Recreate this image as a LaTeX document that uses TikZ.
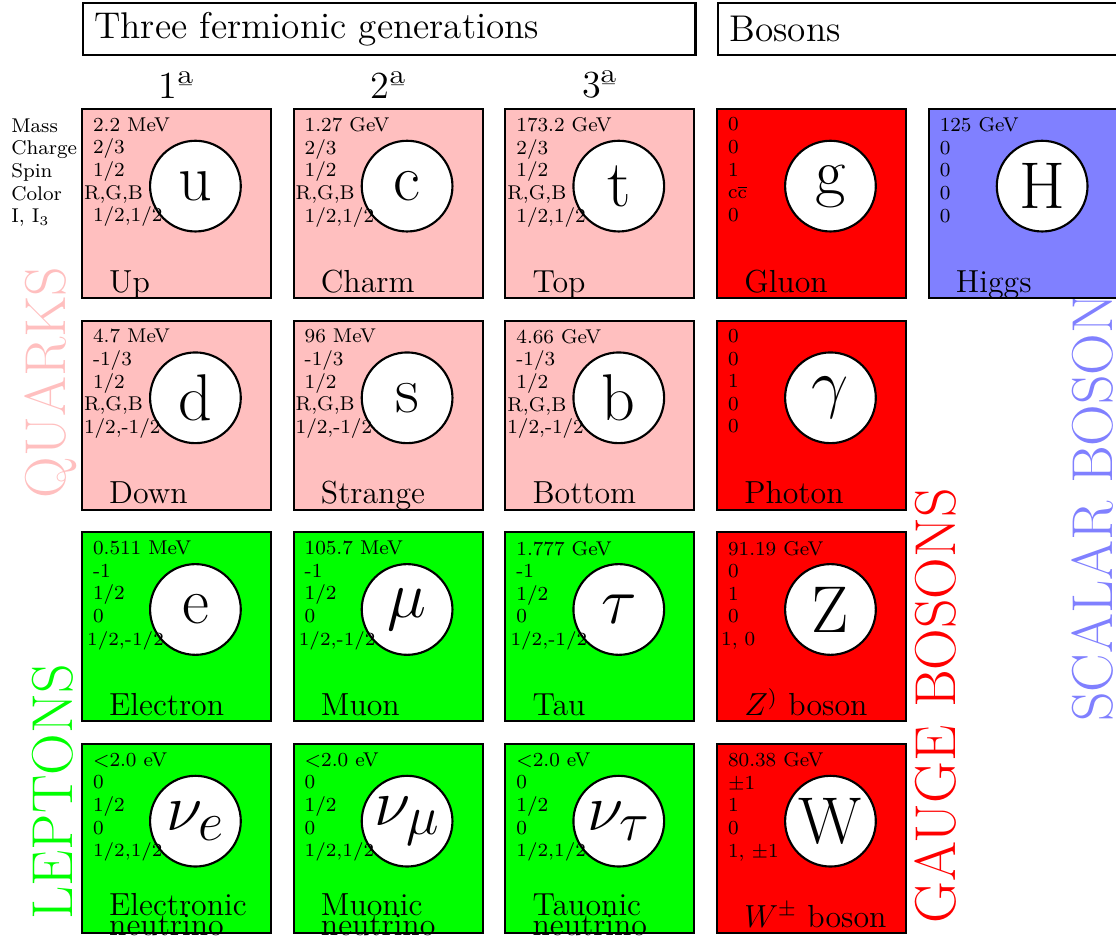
\documentclass[tikz,border=0pt]{standalone}
\usepackage{amsmath}
\usetikzlibrary{positioning}

\begin{document}
\begin{tikzpicture}[line width=0.8pt,
  cell/.style={draw,minimum size=2.5cm,inner sep=0pt},
  quark/.style={cell,fill=red!25},
  lepton/.style={cell,fill=green},
  gauge/.style={cell,fill=red},
  scalar/.style={cell,fill=blue!50},
  ball/.style={draw,fill=white,circle,minimum size=1.2cm,inner sep=0pt,font=\Huge},
  props/.style={anchor=north west,align=left,inner sep=0pt,font=\fontsize{7.5}{8.5}\selectfont},
  pname/.style={anchor=base west,inner sep=0pt,font=\large,align=left},
  family/.style={rotate=90,anchor=base,inner sep=0pt,font=\fontsize{21.7}{26}\selectfont},
  header/.style={draw,anchor=south west,minimum height=0.69cm,text width=7.8cm,inner xsep=0.15cm,inner ysep=0pt,align=left,font=\fontsize{14}{17}\selectfont}]
  \useasboundingbox (-2.335,-9.716) rectangle (12.427,2.692);
  % cabeceras
  \node[header] (ferm) at (-1.25,1.95) {Three fermionic generations};
  \node[header] (bos) at (7.15,1.95) {Bosons};
  \node[font=\Large] (gen1) at (0,1.57) {1ª};
  \node[font=\Large] (gen2) at (2.8,1.57) {2ª};
  \node[font=\Large] (gen3) at (5.6,1.57) {3ª};
  \node[props] (labels) at (-2.2,1.135) {Mass\\Charge\\Spin\\Color\\I, I$_3$};
  % familias
  \node[family,red!25] (quarks) at (-1.475,-2.368) {QUARKS};
  \node[family,green] (leptons) at (-1.382,-7.784) {LEPTONS};
  \node[family,red] (gauges) at (10.30,-6.647) {GAUGE BOSONS};
  \node[family,blue!50] (scalars) at (12.375,-3.827) {SCALAR BOSONS};
  % quarks
  \node[quark] (up) at (0,0) {};
  \node[ball] (upb) at ([shift={(0.25,0.23)}]up.center) {u};
  \node[props] (upd) at ([shift={(0.146,-0.115)}]up.north west) {2.2 MeV\\2/3\\1/2\\\hspace*{-3.4pt}R,G,B\\1/2,1/2};
  \node[pname] (upn) at ([shift={(0.36,0.09)}]up.south west) {Up};
  \node[quark] (charm) at (2.8,0) {};
  \node[ball] (charmb) at ([shift={(0.25,0.23)}]charm.center) {c};
  \node[props] (charmd) at ([shift={(0.146,-0.115)}]charm.north west) {1.27 GeV\\2/3\\1/2\\\hspace*{-3.4pt}R,G,B\\1/2,1/2};
  \node[pname] (charmn) at ([shift={(0.36,0.09)}]charm.south west) {Charm};
  \node[quark] (top) at (5.6,0) {};
  \node[ball] (topb) at ([shift={(0.25,0.23)}]top.center) {t};
  \node[props] (topd) at ([shift={(0.146,-0.115)}]top.north west) {173.2 GeV\\2/3\\1/2\\\hspace*{-3.4pt}R,G,B\\1/2,1/2};
  \node[pname] (topn) at ([shift={(0.36,0.09)}]top.south west) {Top};
  \node[quark] (down) at (0,-2.8) {};
  \node[ball] (downb) at ([shift={(0.25,0.23)}]down.center) {d};
  \node[props] (downd) at ([shift={(0.146,-0.115)}]down.north west) {4.7 MeV\\-1/3\\1/2\\\hspace*{-3.4pt}R,G,B\\\hspace*{-3.4pt}1/2,-1/2};
  \node[pname] (downn) at ([shift={(0.36,0.09)}]down.south west) {Down};
  \node[quark] (strange) at (2.8,-2.8) {};
  \node[ball] (strangeb) at ([shift={(0.25,0.23)}]strange.center) {s};
  \node[props] (stranged) at ([shift={(0.146,-0.115)}]strange.north west) {96 MeV\\-1/3\\1/2\\\hspace*{-3.4pt}R,G,B\\\hspace*{-3.4pt}1/2,-1/2};
  \node[pname] (strangen) at ([shift={(0.36,0.09)}]strange.south west) {Strange};
  \node[quark] (bottom) at (5.6,-2.8) {};
  \node[ball] (bottomb) at ([shift={(0.25,0.23)}]bottom.center) {b};
  \node[props] (bottomd) at ([shift={(0.146,-0.115)}]bottom.north west) {4.66 GeV\\-1/3\\1/2\\\hspace*{-3.4pt}R,G,B\\\hspace*{-3.4pt}1/2,-1/2};
  \node[pname] (bottomn) at ([shift={(0.36,0.09)}]bottom.south west) {Bottom};
  % leptones
  \node[lepton] (electron) at (0,-5.6) {};
  \node[ball] (electronb) at ([shift={(0.25,0.23)}]electron.center) {e};
  \node[props] (electrond) at ([shift={(0.146,-0.115)}]electron.north west) {0.511 MeV\\-1\\1/2\\0\\\hspace*{-2.2pt}{\scriptsize 1/2,-1/2}};
  \node[pname] (electronn) at ([shift={(0.36,0.09)}]electron.south west) {Electron};
  \node[lepton] (muon) at (2.8,-5.6) {};
  \node[ball] (muonb) at ([shift={(0.25,0.23)}]muon.center) {$\mu$};
  \node[props] (muond) at ([shift={(0.146,-0.115)}]muon.north west) {105.7 MeV\\-1\\1/2\\0\\\hspace*{-2.2pt}{\scriptsize 1/2,-1/2}};
  \node[pname] (muonn) at ([shift={(0.36,0.09)}]muon.south west) {Muon};
  \node[lepton] (tau) at (5.6,-5.6) {};
  \node[ball] (taub) at ([shift={(0.25,0.23)}]tau.center) {$\tau$};
  \node[props] (taud) at ([shift={(0.146,-0.115)}]tau.north west) {1.777 GeV\\-1\\1/2\\0\\\hspace*{-2.2pt}{\scriptsize 1/2,-1/2}};
  \node[pname] (taun) at ([shift={(0.36,0.09)}]tau.south west) {Tau};
  \node[lepton] (enu) at (0,-8.4) {};
  \node[ball] (enub) at ([shift={(0.25,0.23)}]enu.center) {$\nu_e$};
  \node[props] (enud) at ([shift={(0.146,-0.115)}]enu.north west) {<2.0 eV\\0\\1/2\\0\\{\scriptsize 1/2,1/2}};
  \node[pname] (enun) at ([shift={(0.36,-0.02)}]enu.south west) {Electronic\\[-6.5pt]neutrino};
  \node[lepton] (munu) at (2.8,-8.4) {};
  \node[ball] (munub) at ([shift={(0.25,0.23)}]munu.center) {$\nu_\mu$};
  \node[props] (munud) at ([shift={(0.146,-0.115)}]munu.north west) {<2.0 eV\\0\\1/2\\0\\{\scriptsize 1/2,1/2}};
  \node[pname] (munun) at ([shift={(0.36,-0.02)}]munu.south west) {Muonic\\[-6.5pt]neutrino};
  \node[lepton] (taunu) at (5.6,-8.4) {};
  \node[ball] (taunub) at ([shift={(0.25,0.23)}]taunu.center) {$\nu_\tau$};
  \node[props] (taunud) at ([shift={(0.146,-0.115)}]taunu.north west) {<2.0 eV\\0\\1/2\\0\\{\scriptsize 1/2,1/2}};
  \node[pname] (taunun) at ([shift={(0.36,-0.02)}]taunu.south west) {Tauonic\\[-6.5pt]neutrino};
  % bosones
  \node[gauge] (gluon) at (8.4,0) {};
  \node[ball] (gluonb) at ([shift={(0.25,0.23)}]gluon.center) {g};
  \node[props] (gluond) at ([shift={(0.146,-0.115)}]gluon.north west) {0\\0\\1\\c$\overline{\mathrm{c}}$\\0};
  \node[pname] (gluonn) at ([shift={(0.36,0.09)}]gluon.south west) {Gluon};
  \node[gauge] (photon) at (8.4,-2.8) {};
  \node[ball] (photonb) at ([shift={(0.25,0.23)}]photon.center) {$\gamma$};
  \node[props] (photond) at ([shift={(0.146,-0.115)}]photon.north west) {0\\0\\1\\0\\0};
  \node[pname] (photonn) at ([shift={(0.36,0.09)}]photon.south west) {Photon};
  \node[gauge] (zboson) at (8.4,-5.6) {};
  \node[ball] (zbosonb) at ([shift={(0.25,0.23)}]zboson.center) {Z};
  \node[props] (zbosond) at ([shift={(0.146,-0.115)}]zboson.north west) {91.19 GeV\\0\\1\\0\\\hspace*{-2.6pt}1, 0};
  \node[pname] (zbosonn) at ([shift={(0.36,0.09)}]zboson.south west) {$Z^{)}$ boson};
  \node[gauge] (wboson) at (8.4,-8.4) {};
  \node[ball] (wbosonb) at ([shift={(0.25,0.23)}]wboson.center) {W};
  \node[props] (wbosond) at ([shift={(0.146,-0.115)}]wboson.north west) {80.38 GeV\\$\pm$1\\1\\0\\1, $\pm$1};
  \node[pname] (wbosonn) at ([shift={(0.36,0.09)}]wboson.south west) {$W^\pm$ boson};
  \node[scalar] (higgs) at (11.2,0) {};
  \node[ball] (higgsb) at ([shift={(0.25,0.23)}]higgs.center) {H};
  \node[props] (higgsd) at ([shift={(0.146,-0.115)}]higgs.north west) {125 GeV\\0\\0\\0\\0};
  \node[pname] (higgsn) at ([shift={(0.36,0.09)}]higgs.south west) {Higgs};
\end{tikzpicture}
\end{document}
